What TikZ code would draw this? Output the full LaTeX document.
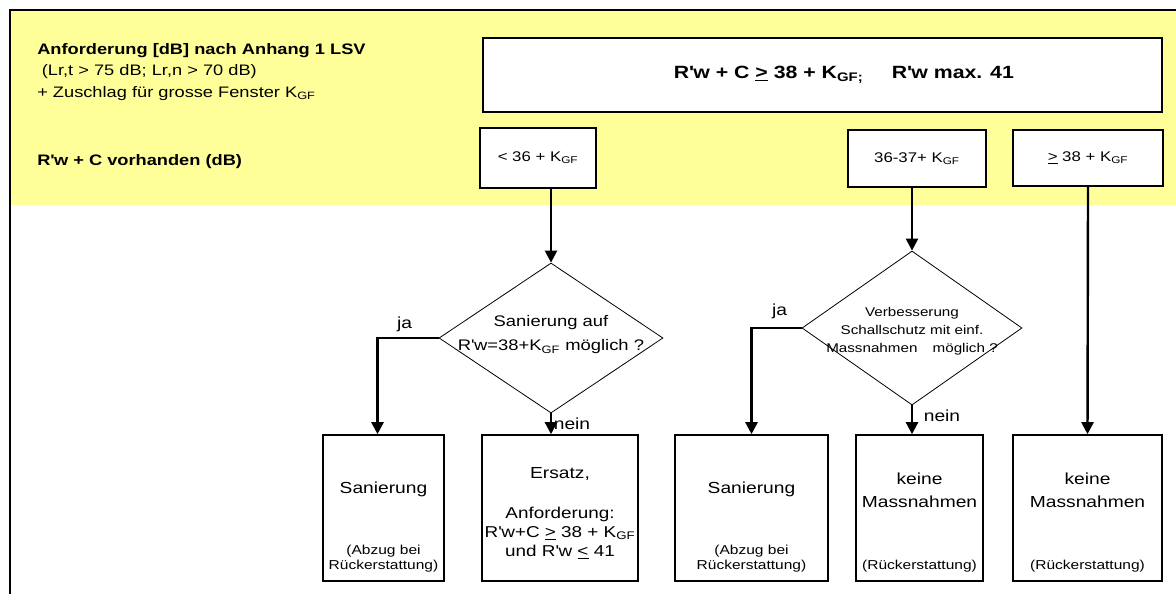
\documentclass[tikz,border=0pt]{standalone}
\usepackage{fontspec}
\setmainfont{Liberation Sans}[FakeStretch=1.2]
\usetikzlibrary{arrows.meta,shapes.geometric,positioning}
\tikzset{>={Triangle[width=9pt,length=9pt]}}
\definecolor{bandyellow}{RGB}{255,255,153}

\begin{document}
\begin{tikzpicture}[x=0.75pt,y=-0.75pt,
  sized/.style 2 args={minimum width=#1*0.75pt,minimum height=#2*0.75pt},
  box/.style={draw=black,line width=1.2pt,fill=white,inner sep=0pt,align=center},
  decision/.style={draw=black,line width=0.6pt,fill=white,diamond,inner sep=0pt},
  flow/.style={->,line width=1.8pt},
  big/.style={font=\fontsize{12}{14}\selectfont,align=center,inner sep=0pt},
  small/.style={font=\fontsize{9.7}{11.5}\selectfont,align=center,inner sep=0pt},
  lbl/.style={font=\fontsize{12}{14}\selectfont,inner sep=0pt}]

\def\Kgf{K\textsubscript{GF}}
\def\Rw{R\textquotesingle w}
\def\uge{\underline{>}}
\def\ule{\underline{<}}

\useasboundingbox (0,0) rectangle (1176,594);

% yellow band and frame:
\fill[bandyellow] (10,10) rectangle (1176,205);
\draw[line width=1.5pt] (10,594) -- (10,10) -- (1176,10);

% header texts:
\node[anchor=west,inner sep=0pt,align=left,font=\fontsize{11.4}{16}\selectfont] (req) at (37,72)
  {\textbf{Anforderung [dB] nach Anhang 1 LSV}\\\hspace*{0.3em}(Lr,t > 75 dB; Lr,n > 70 dB)\\+ Zuschlag für grosse Fenster \Kgf};
\node[anchor=west,inner sep=0pt,font=\fontsize{11.4}{13}\bfseries\selectfont] (have) at (37,162) {\Rw{} + C vorhanden (dB)};

% requirement box:
\node[box,sized={679}{74}] (goal) at (822.5,75) {};
\node[inner sep=0pt,font=\fontsize{13.3}{16}\bfseries\selectfont] (goalT) at ([xshift=16pt]goal.center)
  {\Rw{} + C \uge{} 38 + K\textsubscript{GF;}\hspace{1.6em}\Rw{} max. 41};

% classes:
\node[box,sized={116}{60},font=\fontsize{10.5}{13}\selectfont] (low) at (538,158) {< 36 + \Kgf};
\node[box,sized={138}{57},font=\fontsize{10.5}{13}\selectfont] (mid) at (917,158.5) {36-37+ \Kgf};
\node[box,sized={150}{56},font=\fontsize{10.5}{13}\selectfont] (high) at (1088,158) {\uge{} 38 + \Kgf};

% decisions:
\node[decision,sized={224}{150}] (dOne) at (551,338) {};
\node[font=\fontsize{11.5}{18}\selectfont,align=center,inner sep=0pt] (dOneT) at (551,335)
  {Sanierung auf\\\Rw=38+\Kgf{} möglich ?};
\node[decision,sized={220}{154}] (dTwo) at (912,328) {};
\node[font=\fontsize{9.5}{13.5}\selectfont,align=center,inner sep=0pt] (dTwoT) at (912,331)
  {Verbesserung\\Schallschutz mit einf.\\Massnahmen\hspace{1.2em}möglich ?};

% results:
\node[box,sized={121}{146}] (sanA) at (383.5,508) {};
\node[big] (sanAT) at ([shift={(0,55)}]sanA.north) {Sanierung};
\node[small,anchor=south] (sanAS) at ([shift={(0,-9)}]sanA.south) {(Abzug bei\\Rückerstattung)};

\node[box,sized={156}{146}] (repl) at (560,508) {};
\node[big] (replA) at ([shift={(0,40)}]repl.north) {Ersatz,};
\node[big,font=\fontsize{11.8}{14}\selectfont] (replB) at ([shift={(0,99)}]repl.north)
  {Anforderung:\\\Rw+C \uge{} 38 + \Kgf\\und \Rw{} \ule{} 41};

\node[box,sized={153}{146}] (sanC) at (751.5,508) {};
\node[big] (sanCT) at ([shift={(0,55)}]sanC.north) {Sanierung};
\node[small,anchor=south] (sanCS) at ([shift={(0,-9)}]sanC.south) {(Abzug bei\\Rückerstattung)};

\node[box,sized={127}{146}] (noneD) at (919.5,508) {};
\node[big,font=\fontsize{12}{17}\selectfont] (noneDT) at ([shift={(0,56)}]noneD.north) {keine\\Massnahmen};
\node[small,anchor=south] (noneDS) at ([shift={(0,-9)}]noneD.south) {(Rückerstattung)};

\node[box,sized={149}{146}] (noneE) at (1087.5,508) {};
\node[big,font=\fontsize{12}{17}\selectfont] (noneET) at ([shift={(0,56)}]noneE.north) {keine\\Massnahmen};
\node[small,anchor=south] (noneES) at ([shift={(0,-9)}]noneE.south) {(Rückerstattung)};

% connectors:
\draw[flow] (dOne.north |- low.south) -- (dOne.north);
\draw[flow] (dTwo.north |- mid.south) -- (dTwo.north);
\draw[flow] (high.south) -- (noneE.north);
\draw[flow] (dOne.west) -| ([xshift=-4.5pt]sanA.north);
\draw[flow] (dOne.south) -- (dOne.south |- repl.north);
\draw[flow] (dTwo.west) -| (sanC.north);
\draw[flow] (dTwo.south) -- (dTwo.south |- noneD.north);

% branch labels:
\node[lbl] (jaOne) at ([shift={(-34,-14)}]dOne.west) {ja};
\node[lbl] (neinOne) at ([shift={(21,10)}]dOne.south) {nein};
\node[lbl] (jaTwo) at ([shift={(-22,-17)}]dTwo.west) {ja};
\node[lbl] (neinTwo) at ([shift={(30,10)}]dTwo.south) {nein};

\end{tikzpicture}
\end{document}
